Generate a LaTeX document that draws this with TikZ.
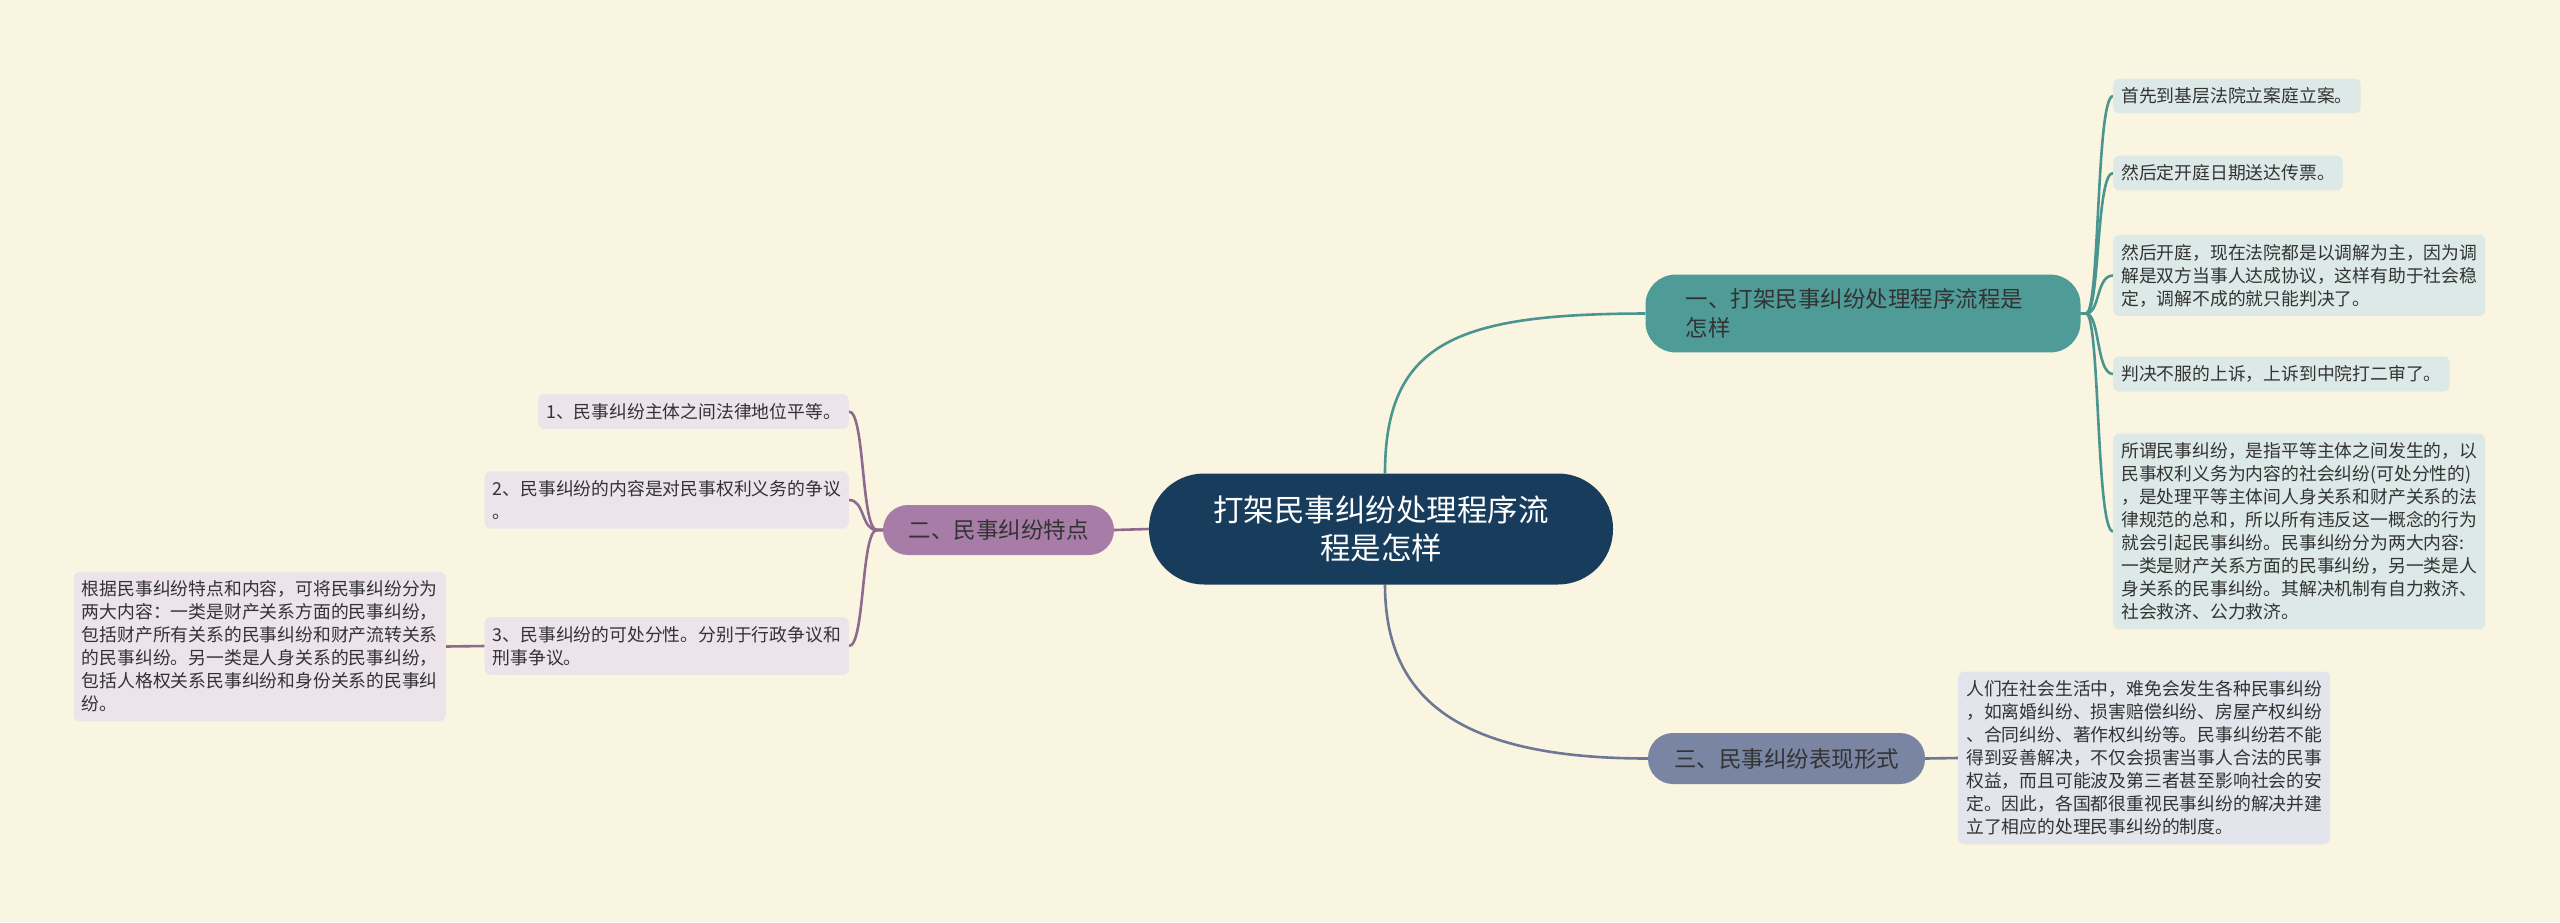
\documentclass[tikz,border=0pt]{standalone}
\usepackage{fontspec}
\setmainfont{Noto Sans CJK SC}
\usetikzlibrary{backgrounds}
\definecolor{bgc}{HTML}{FAF5E1}
\definecolor{rootc}{HTML}{183D5C}
\definecolor{oneC}{HTML}{4F9B98}
\definecolor{oneL}{HTML}{4A9590}
\definecolor{oneLeaf}{HTML}{DCE9E7}
\definecolor{twoC}{HTML}{A77CA7}
\definecolor{twoL}{HTML}{8E6A8C}
\definecolor{twoLeaf}{HTML}{ECE3EB}
\definecolor{thrC}{HTML}{7A85A3}
\definecolor{thrL}{HTML}{6E7895}
\definecolor{thrLeaf}{HTML}{E3E5EC}
\definecolor{txt}{HTML}{333333}
\tikzset{
  leafbox/.style={font=\fontsize{17.8}{23}\selectfont, inner xsep=8pt, inner ysep=9pt,
    rounded corners=6pt, align=left, text=txt},
  branchbox/.style={font=\fontsize{22.5}{29}\selectfont, inner sep=0pt,
    rounded corners=25pt, text=txt},
  rootbox/.style={font=\fontsize{30.5}{37.5}\selectfont, fill=rootc, text=white,
    align=center, minimum width=464pt, minimum height=111pt, inner sep=0pt, rounded corners=55pt},
  conn/.style={line width=2.6pt}
}
\begin{document}
\begin{tikzpicture}[x=1pt,y=-1pt]
\useasboundingbox (0,0) rectangle (2560,922);

% root
\node[rootbox] (root) at (1381,529) {打架民事纠纷处理程序流\\程是怎样};

% branch 1
\node[branchbox, fill=oneC, text width=355pt, align=left, inner xsep=40pt, inner ysep=14pt, rounded corners=30pt]
  (b1) at (1863,313.5) {一、打架民事纠纷处理程序流程是\\怎样};
\node[leafbox, fill=oneLeaf, anchor=west] (a1) at (2113,96) {首先到基层法院立案庭立案。};
\node[leafbox, fill=oneLeaf, anchor=west] (a2) at (2113,173) {然后定开庭日期送达传票。};
\node[leafbox, fill=oneLeaf, anchor=west] (a3) at (2113,275.5) {然后开庭，现在法院都是以调解为主，因为调\\解是双方当事人达成协议，这样有助于社会稳\\定，调解不成的就只能判决了。};
\node[leafbox, fill=oneLeaf, anchor=west] (a4) at (2113,374) {判决不服的上诉，上诉到中院打二审了。};
\node[leafbox, fill=oneLeaf, anchor=west] (a5) at (2113,531.5) {所谓民事纠纷，是指平等主体之间发生的，以\\民事权利义务为内容的社会纠纷(可处分性的)\\，是处理平等主体间人身关系和财产关系的法\\律规范的总和，所以所有违反这一概念的行为\\就会引起民事纠纷。民事纠纷分为两大内容:\\一类是财产关系方面的民事纠纷，另一类是人\\身关系的民事纠纷。其解决机制有自力救济、\\社会救济、公力救济。};

% branch 2
\node[branchbox, fill=twoC, minimum width=231pt, minimum height=50pt] (b2) at (998.5,530) {二、民事纠纷特点};
\node[leafbox, fill=twoLeaf, anchor=east] (c1) at (849,411.5) {1、民事纠纷主体之间法律地位平等。};
\node[leafbox, fill=twoLeaf, anchor=east] (c2) at (849,500) {2、民事纠纷的内容是对民事权利义务的争议\\。};
\node[leafbox, fill=twoLeaf, anchor=east] (c3) at (849,646) {3、民事纠纷的可处分性。分别于行政争议和\\刑事争议。};
\node[leafbox, fill=twoLeaf, anchor=east] (c4) at (446,646.5) {根据民事纠纷特点和内容，可将民事纠纷分为\\两大内容：一类是财产关系方面的民事纠纷，\\包括财产所有关系的民事纠纷和财产流转关系\\的民事纠纷。另一类是人身关系的民事纠纷，\\包括人格权关系民事纠纷和身份关系的民事纠\\纷。};

% branch 3
\node[branchbox, fill=thrC, minimum width=277pt, minimum height=51pt] (b3) at (1786.5,758.5) {三、民事纠纷表现形式};
\node[leafbox, fill=thrLeaf, anchor=west] (d1) at (1958,758) {人们在社会生活中，难免会发生各种民事纠纷\\，如离婚纠纷、损害赔偿纠纷、房屋产权纠纷\\、合同纠纷、著作权纠纷等。民事纠纷若不能\\得到妥善解决，不仅会损害当事人合法的民事\\权益，而且可能波及第三者甚至影响社会的安\\定。因此，各国都很重视民事纠纷的解决并建\\立了相应的处理民事纠纷的制度。};

\begin{scope}[on background layer]
\fill[bgc] (0,0) rectangle (2560,922);
% root connectors
\draw[conn, oneL] (root.north -| 1385,0) .. controls (1385,340) and (1460,314) .. (b1.west);
\draw[conn, thrL] (root.south -| 1385,0) .. controls (1385,700) and (1460,758.5) .. (b3.west);
\draw[conn, twoL] (root.west) -- (b2.east);
% branch 1 connectors
\foreach \n in {a1,a2,a3,a4,a5}{
  \draw[conn, oneL] (b1.east) -- (2086,313.5) .. controls (2100,313.5) and (2096,0 |- \n.west) .. (\n.west);
}
% branch 2 connectors
\foreach \n in {c1,c2,c3}{
  \draw[conn, twoL] (b2.west) -- (877,530) .. controls (861,530) and (865,0 |- \n.east) .. (\n.east);
}
\draw[conn, twoL] (c3.west) -- (c4.east);
% branch 3 connector
\draw[conn, thrL] (b3.east) -- (d1.west);
\end{scope}
\end{tikzpicture}
\end{document}
